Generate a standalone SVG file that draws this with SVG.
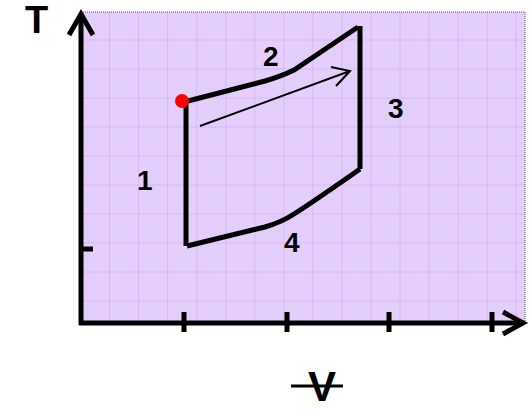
<svg xmlns="http://www.w3.org/2000/svg" width="531" height="411" viewBox="0 0 531 411">
  <defs>
    <pattern id="grid" x="81" y="11.5" width="29.05" height="29" patternUnits="userSpaceOnUse">
      <path d="M 29.05 0 L 29.05 29 M 0 29 L 29.05 29" fill="none" stroke="#d2a6f7" stroke-width="1.2"/>
    </pattern>
  </defs>
  <style>
    .axis { stroke: #000; stroke-width: 5; fill: none; }
    .curve { stroke: #000; stroke-width: 5; fill: none; stroke-linejoin: miter; }
    .lbl { font-family: "Liberation Sans", Arial, sans-serif; font-weight: bold; fill: #000; }
    .thin { stroke: #000; stroke-width: 2; fill: none; }
  </style>
  <rect width="531" height="411" fill="#ffffff"/>
  <g id="plot-area">
    <rect x="81" y="12" width="444" height="310" fill="#e4cefc"/>
    <rect x="81" y="12" width="444" height="310" fill="url(#grid)"/>
    <path d="M 81 12 L 525 12 L 525 322" fill="none" stroke="#555" stroke-width="1" stroke-dasharray="1,1"/>
  </g>
  <g id="axes">
    <path class="axis" d="M 81 16 L 81 325"/>
    <path class="axis" d="M 79 323 L 522 323"/>
    <path class="axis" d="M 69 35 L 81 14 L 93 35"/>
    <path class="axis" d="M 503 312 L 523 323 L 503 334"/>
    <path class="axis" d="M 184 312 L 184 332 M 287 312 L 287 332 M 389 312 L 389 332 M 492 312 L 492 332"/>
    <path class="axis" d="M 81 249 L 93 249"/>
  </g>
  <g id="connectors">
    <path id="edge-1" class="curve" d="M 186 103 L 186 246"/>
    <path id="edge-2" class="curve" d="M 188 101 L 265 81 Q 282 76 294 70 Q 318 54 358 27"/>
    <path id="edge-3" class="curve" d="M 360 26 L 360 169"/>
    <path id="edge-4" class="curve" d="M 187 246 L 265 227 Q 282 222 294 214 Q 316 200 360 169"/>
    <path id="process-arrow" class="thin" d="M 200 126 L 350 71 M 331 67 L 350 71 L 336 86"/>
  </g>
  <g id="state-point">
    <circle cx="182" cy="101" r="7" fill="#ff0000"/>
  </g>
  <g id="labels">
    <text class="lbl" x="25" y="33" font-size="38">T</text>
    <text class="lbl" x="137" y="190" font-size="28">1</text>
    <text class="lbl" x="263" y="66" font-size="28">2</text>
    <text class="lbl" x="388" y="118" font-size="28">3</text>
    <text class="lbl" x="284" y="252" font-size="28">4</text>
    <text class="lbl" x="322" y="401" font-size="42" text-anchor="middle">V</text>
    <path d="M 291 386 L 343 386" stroke="#000" stroke-width="3"/>
  </g>
</svg>
